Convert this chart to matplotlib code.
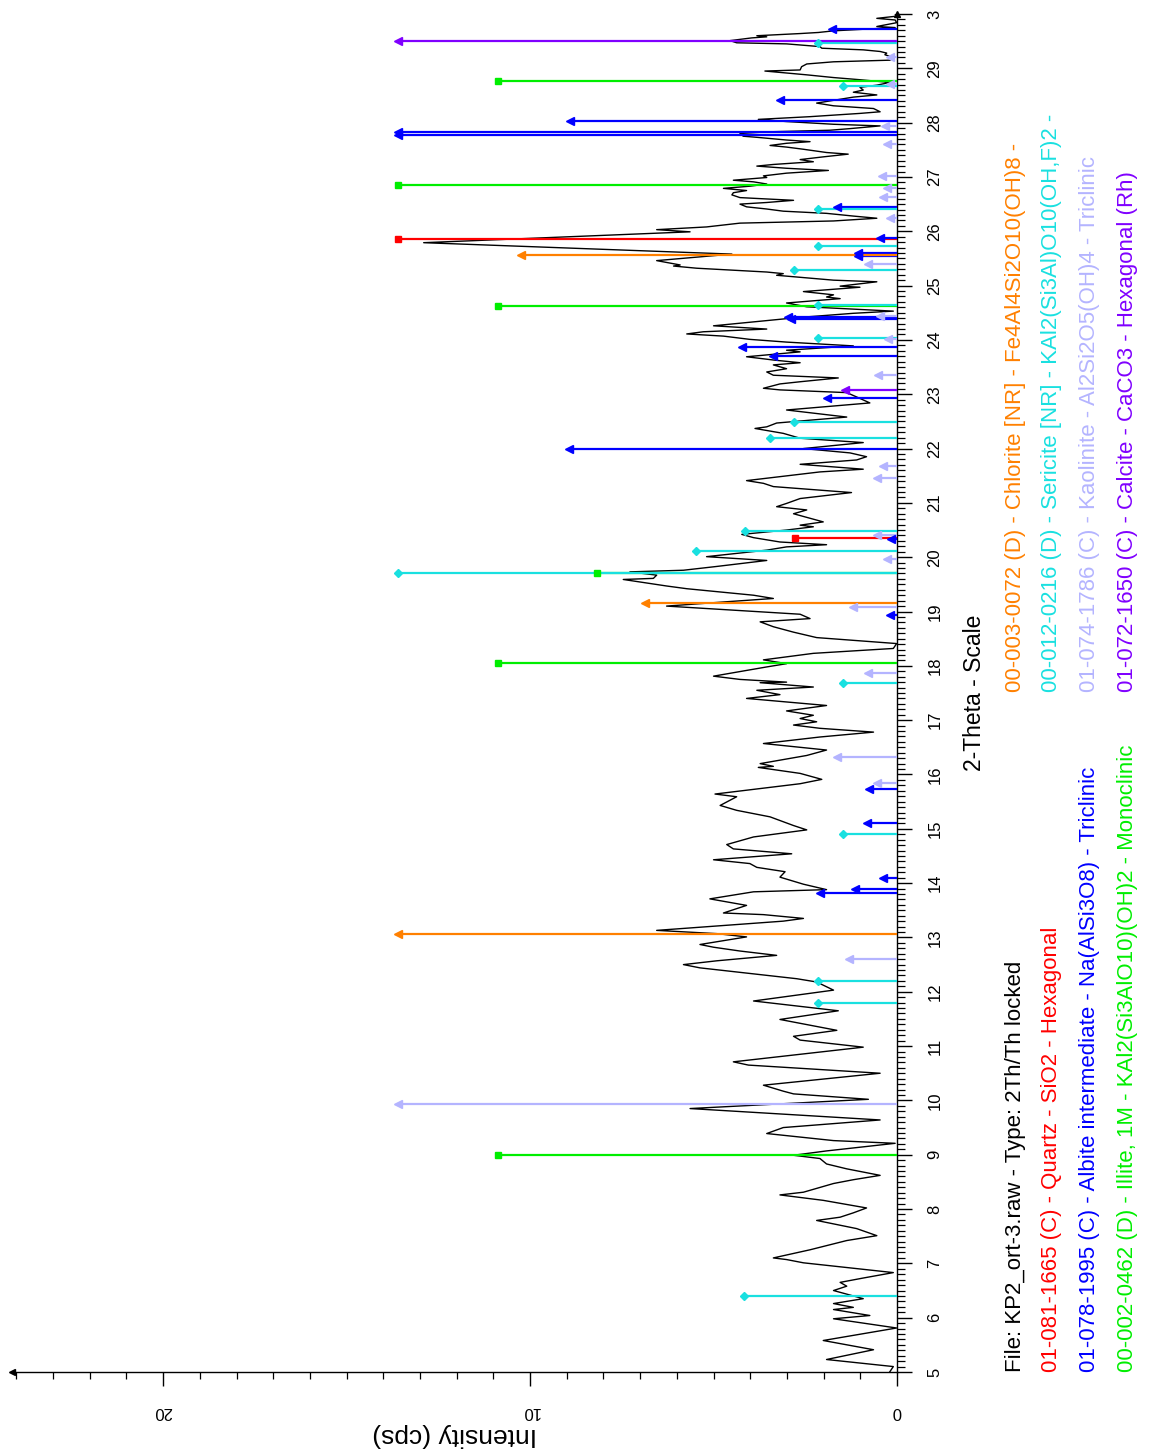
import matplotlib
matplotlib.use("Agg")
import matplotlib.pyplot as plt
from matplotlib import font_manager
from matplotlib.ticker import MultipleLocator, FixedLocator

# ---- font ---------------------------------------------------------------
_names = {f.name for f in font_manager.fontManager.ttflist}
FONT = [n for n in ["Liberation Sans Narrow", "Liberation Sans", "DejaVu Sans"] if n in _names]
plt.rcParams["font.family"] = FONT

# ---- measured pattern: 2-theta (deg) and intensity (cps) -----------------
theta = [30.00, 29.96, 29.92, 29.89, 29.84, 29.77, 29.75, 29.69, 29.66, 29.64,
         29.60, 29.58, 29.56, 29.51, 29.47, 29.45, 29.40, 29.37, 29.34, 29.31,
         29.28, 29.25, 29.20, 29.15, 29.12, 29.08, 29.03, 28.97, 28.95, 28.92,
         28.88, 28.83, 28.79, 28.74, 28.69, 28.65, 28.60, 28.56, 28.51, 28.47,
         28.42, 28.36, 28.31, 28.26, 28.20, 28.17, 28.11, 28.06, 28.02, 27.97,
         27.94, 27.89, 27.86, 27.83, 27.80, 27.75, 27.73, 27.68, 27.65, 27.62,
         27.58, 27.55, 27.51, 27.45, 27.42, 27.37, 27.32, 27.28, 27.23, 27.20,
         27.16, 27.12, 27.07, 27.02, 26.99, 26.94, 26.91, 26.87, 26.83, 26.79,
         26.75, 26.71, 26.67, 26.62, 26.57, 26.53, 26.50, 26.45, 26.41, 26.37,
         26.33, 26.28, 26.24, 26.19, 26.15, 26.08, 26.03, 25.99, 25.79, 25.58,
         25.46, 25.38, 25.36, 25.32, 25.25, 25.22, 25.19, 25.10, 25.07, 24.99,
         24.97, 24.89, 24.83, 24.79, 24.76, 24.68, 24.61, 24.53, 24.49, 24.41,
         24.26, 24.20, 24.15, 24.11, 24.07, 24.01, 23.96, 23.89, 23.81, 23.78,
         23.69, 23.63, 23.58, 23.54, 23.47, 23.41, 23.35, 23.30, 23.23, 23.19,
         23.11, 23.08, 23.03, 22.95, 22.84, 22.71, 22.58, 22.47, 22.40, 22.37,
         22.28, 22.19, 22.11, 22.00, 21.92, 21.85, 21.79, 21.71, 21.62, 21.57,
         21.41, 21.36, 21.30, 21.19, 21.08, 20.99, 20.93, 20.87, 20.80, 20.65,
         20.59, 20.56, 20.50, 20.42, 20.36, 20.28, 20.23, 20.19, 20.13, 20.01,
         19.94, 19.83, 19.76, 19.73, 19.67, 19.61, 19.59, 19.47, 19.42, 19.30,
         19.24, 19.18, 19.10, 18.95, 18.87, 18.81, 18.72, 18.62, 18.52, 18.41,
         18.32, 18.23, 18.11, 18.04, 17.98, 17.81, 17.75, 17.70, 17.69, 17.61,
         17.55, 17.47, 17.40, 17.27, 17.17, 17.09, 17.03, 16.97, 16.91, 16.85,
         16.78, 16.69, 16.57, 16.45, 16.35, 16.20, 16.15, 16.13, 16.02, 15.91,
         15.83, 15.74, 15.64, 15.59, 15.43, 15.34, 15.28, 15.22, 15.06, 14.98,
         14.85, 14.71, 14.63, 14.54, 14.43, 14.36, 14.29, 14.21, 14.11, 13.98,
         13.88, 13.84, 13.71, 13.59, 13.45, 13.42, 13.35, 13.30, 13.13, 13.07,
         13.01, 12.87, 12.82, 12.75, 12.67, 12.57, 12.50, 12.44, 12.24, 12.18,
         12.03, 11.83, 11.65, 11.49, 11.29, 11.18, 11.11, 10.98, 10.71, 10.65,
         10.50, 10.28, 10.17, 10.12, 10.02, 9.85, 9.64, 9.50, 9.39, 9.26,
         9.21, 9.07, 8.99, 8.93, 8.83, 8.74, 8.62, 8.54, 8.47, 8.31,
         8.26, 8.16, 8.02, 7.93, 7.85, 7.79, 7.64, 7.51, 7.42, 7.25,
         7.10, 7.07, 7.01, 6.83, 6.73, 6.65, 6.58, 6.50, 6.35, 6.26,
         6.19, 6.15, 6.04, 5.98, 5.81, 5.58, 5.41, 5.23, 5.10, 5.00]
intensity = [0.05, 0.01, 0.55, 0.05, 0.01, 0.55, 0.05, 1.73, 2.14, 2.64,
             3.82, 3.55, 3.96, 4.55, 4.37, 3.01, 2.10, 2.05, 0.92, 0.46,
             0.28, 0.33, 0.10, 0.19, 1.73, 2.46, 2.60, 2.64, 3.60, 3.10,
             2.46, 1.73, 1.01, 0.19, 0.55, 1.01, 0.92, 1.19, 0.55, 1.19,
             1.64, 2.19, 1.73, 0.64, 0.46, 1.01, 2.37, 3.78, 3.01, 1.73,
             0.46, 1.28, 1.83, 3.55, 4.28, 4.19, 3.82, 3.01, 2.37, 3.01,
             3.46, 3.01, 2.55, 1.92, 1.33, 2.01, 2.64, 2.28, 3.37, 3.82,
             3.01, 1.87, 3.01, 3.64, 3.55, 4.46, 3.91, 3.55, 4.01, 4.73,
             4.10, 4.46, 4.50, 4.28, 2.82, 3.55, 4.28, 4.10, 3.55, 3.10,
             1.92, 1.19, 0.55, 1.73, 4.28, 5.19, 6.55, 5.64, 12.90, 4.50,
             6.55, 5.91, 6.09, 5.46, 3.55, 3.10, 3.28, 1.73, 0.55, 1.55,
             1.01, 2.55, 1.73, 1.92, 1.55, 3.01, 2.46, 0.10, 1.19, 2.73,
             5.00, 3.55, 5.28, 5.73, 4.73, 4.01, 3.01, 1.19, 3.01, 2.64,
             4.10, 3.37, 2.64, 3.37, 3.01, 3.55, 3.37, 1.60, 2.64, 3.19,
             3.64, 3.19, 1.37, 1.10, 0.74, 3.01, 1.37, 3.28, 3.55, 3.87,
             3.10, 2.64, 0.92, 2.55, 1.28, 0.83, 1.10, 2.64, 0.92, 2.10,
             4.10, 3.64, 3.37, 1.24, 2.64, 3.01, 3.28, 2.46, 2.82, 2.01,
             2.64, 2.28, 3.01, 4.23, 3.91, 3.19, 1.92, 3.01, 3.55, 5.19,
             3.55, 4.91, 5.82, 7.28, 6.55, 6.64, 7.46, 6.28, 5.73, 3.91,
             3.37, 4.64, 6.28, 2.64, 2.37, 3.73, 3.37, 2.82, 2.19, 0.01,
             0.10, 2.28, 3.64, 3.01, 3.55, 5.00, 4.28, 3.01, 3.73, 2.28,
             3.82, 3.19, 4.10, 1.92, 3.01, 2.28, 2.64, 2.19, 2.82, 2.10,
             0.64, 2.10, 3.64, 1.92, 2.46, 3.73, 3.37, 3.78, 2.64, 2.05,
             2.64, 3.73, 4.96, 4.37, 4.82, 4.37, 3.91, 3.46, 2.82, 2.46,
             3.91, 4.64, 4.46, 2.87, 5.00, 4.01, 3.82, 3.05, 3.19, 2.55,
             1.92, 3.91, 5.10, 4.10, 4.73, 3.64, 2.55, 3.10, 6.55, 4.91,
             4.10, 5.37, 5.00, 4.28, 3.28, 4.91, 5.82, 5.37, 2.73, 2.19,
             1.73, 3.91, 1.60, 3.19, 1.64, 2.82, 2.64, 0.92, 4.46, 4.05,
             0.46, 3.64, 3.10, 2.82, 0.78, 5.64, 0.46, 3.10, 3.55, 1.73,
             0.05, 1.92, 2.82, 2.10, 1.92, 1.37, 0.46, 1.19, 1.73, 2.55,
             3.19, 2.01, 0.83, 1.19, 1.55, 2.19, 1.10, 0.55, 1.37, 2.37,
             3.37, 3.01, 2.55, 0.10, 0.92, 1.55, 1.37, 1.73, 0.92, 1.73,
             1.19, 1.73, 0.74, 1.73, 0.01, 2.01, 0.64, 1.92, 0.10, 0.20]

# ---- reference patterns (stick positions, stick heights in cps) ----------
quartz_pos = [25.85, 20.36]
quartz_int = [13.6, 2.78]

albite_pos = [29.72, 28.42, 28.03, 27.83, 27.78, 26.45, 25.87, 25.60, 25.55,
              24.43, 24.39, 23.87, 23.70, 22.93, 22.00, 20.33, 18.94, 15.73,
              15.11, 14.09, 13.90, 13.81]
albite_int = [1.78, 3.19, 8.90, 13.6, 13.6, 1.64, 0.46, 1.05, 1.05,
              2.96, 2.90, 4.23, 3.37, 1.92, 8.94, 0.15, 0.19, 0.75,
              0.83, 0.37, 1.14, 2.10]

illite_pos = [28.77, 26.85, 24.62, 19.70, 18.06, 8.99]
illite_int = [10.87, 13.6, 10.87, 8.17, 10.87, 10.87]

chlorite_pos = [25.56, 19.15, 13.06]
chlorite_int = [10.25, 6.87, 13.6]

sericite_pos = [29.46, 28.67, 26.41, 25.73, 25.28, 24.64, 24.03, 22.49, 22.20,
                20.48, 20.12, 19.70, 17.69, 14.90, 12.19, 11.80, 6.40]
sericite_int = [2.14, 1.46, 2.14, 2.14, 2.82, 2.14, 2.14, 2.82, 3.46,
                4.14, 5.48, 13.6, 1.46, 1.46, 2.14, 2.14, 4.16]

kaolinite_pos = [29.20, 28.72, 27.94, 27.60, 27.02, 26.80, 26.64, 26.24, 25.39,
                 24.44, 24.02, 23.35, 21.68, 21.46, 20.41, 19.96, 19.09, 17.86,
                 16.32, 15.84, 12.60, 9.94]
kaolinite_int = [0.19, 0.20, 0.33, 0.28, 0.42, 0.28, 0.37, 0.19, 0.78,
                 0.46, 0.24, 0.51, 0.37, 0.55, 0.55, 0.28, 1.19, 0.78,
                 1.63, 0.55, 1.30, 13.6]

calcite_pos = [29.51, 23.07]
calcite_int = [13.6, 1.42]

file_label = "File: KP2_ort-3.raw - Type: 2Th/Th locked"
phases = [
    # (label, colour, marker, size, positions, intensities, column, upper)
    ("01-081-1665 (C) - Quartz - SiO2 - Hexagonal", "#ff0000", "s", 5,
     quartz_pos, quartz_int, 1, False),
    ("01-078-1995 (C) - Albite intermediate - Na(AlSi3O8) - Triclinic", "#0000ff", "<", 6,
     albite_pos, albite_int, 2, False),
    ("00-002-0462 (D) - Illite, 1M - KAl2(Si3AlO10)(OH)2 - Monoclinic", "#00ee00", "s", 5,
     illite_pos, illite_int, 3, False),
    ("00-003-0072 (D) - Chlorite [NR] - Fe4Al4Si2O10(OH)8 -", "#ff8000", "<", 6,
     chlorite_pos, chlorite_int, 0, True),
    ("00-012-0216 (D) - Sericite [NR] - KAl2(Si3Al)O10(OH,F)2 -", "#19e0e0", "D", 4,
     sericite_pos, sericite_int, 1, True),
    ("01-074-1786 (C) - Kaolinite - Al2Si2O5(OH)4 - Triclinic", "#b4b4ff", "<", 6,
     kaolinite_pos, kaolinite_int, 2, True),
    ("01-072-1650 (C) - Calcite - CaCO3 - Hexagonal (Rh)", "#8000ff", "<", 6,
     calcite_pos, calcite_int, 3, True),
]

theta_ticks = list(range(5, 31))
theta_ticklabels = [str(t) for t in range(5, 30)] + ["3"]
int_ticks = [0, 10, 20]

# ---- figure (pattern drawn with 2-theta running upward) -----------------
W, H = 1149, 1452
fig = plt.figure(figsize=(W / 100, H / 100), dpi=100)
ax = fig.add_axes([12 / W, 80 / H, (897 - 12) / W, (1372 - 14) / H])
ax.set_xlim(24.12, 0)
ax.set_ylim(5, 30)

ax.plot(intensity, theta, color="black", lw=1.0, zorder=2)

for label, col, mk, ms, pos, val, c, upper in phases:
    ax.hlines(pos, 0, val, colors=col, lw=1.6, zorder=3)
    ax.plot(val, pos, ls="none", marker=mk, ms=ms, color=col, mec=col, zorder=4)

# spines
for s in ("top", "left"):
    ax.spines[s].set_visible(False)
ax.spines["bottom"].set_linewidth(1.0)
ax.spines["right"].set_linewidth(1.0)

# 2-theta axis on the right
ax.yaxis.set_label_position("right")
ax.yaxis.tick_right()
ax.yaxis.set_major_locator(FixedLocator(theta_ticks))
ax.yaxis.set_minor_locator(MultipleLocator(0.1))
ax.set_yticklabels(theta_ticklabels, rotation=90, va="center", fontsize=12)
ax.tick_params(axis="y", which="major", length=11, width=1, pad=11, direction="out")
ax.tick_params(axis="y", which="minor", length=6, width=0.9, direction="out")
ax.set_ylabel("2-Theta - Scale", rotation=90, fontsize=16.5, labelpad=15)

# intensity axis at the bottom
ax.xaxis.set_major_locator(FixedLocator(int_ticks))
ax.xaxis.set_minor_locator(MultipleLocator(1))
ax.set_xticklabels([str(t) for t in int_ticks], rotation=180, fontsize=12)
ax.tick_params(axis="x", which="major", length=10, width=1, pad=13, direction="out")
ax.tick_params(axis="x", which="minor", length=5, width=0.9, direction="out")
ax.set_xlabel("Intensity (cps)", rotation=180, fontsize=19, labelpad=3)

# axis end arrows
ax.plot(0, 0, marker="<", ms=4, color="black", transform=ax.transAxes, clip_on=False)
ax.plot(1, 1, marker="^", ms=4, color="black", transform=ax.transAxes, clip_on=False)

# ---- legend block, written upward -----------------------------------------
col_x = [1016, 1052, 1089, 1127]
txt_kw = dict(rotation=90, rotation_mode="anchor", ha="left", va="center", fontsize=16)
fig.text(col_x[0] / W, 80 / H, file_label, color="black", **txt_kw)
for label, col, mk, ms, pos, val, c, upper in phases:
    y0 = (1452 - 692) / H if upper else 80 / H
    fig.text(col_x[c] / W, y0, label, color=col, **txt_kw)

fig.savefig("out.png", dpi=100)
